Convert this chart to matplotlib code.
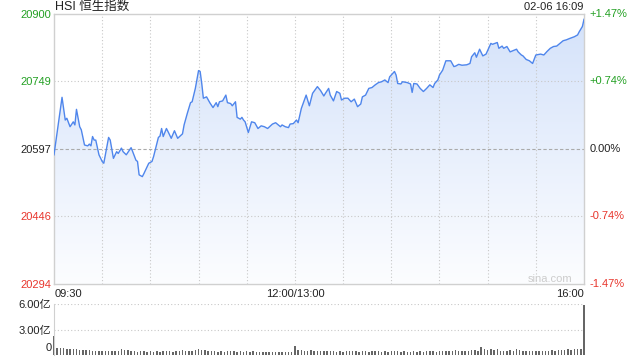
import numpy as np
import matplotlib
matplotlib.use('Agg')
import matplotlib.pyplot as plt
import matplotlib.transforms as mtransforms
from matplotlib.colors import LinearSegmentedColormap
from matplotlib.patches import PathPatch

plt.rcParams['font.family'] = ['Liberation Sans', 'Noto Sans CJK SC', 'DejaVu Sans']

# ---- data ----
prev_close = 20597
y_ticks = [20294, 20446, 20597, 20749, 20900]
pct_labels = ['-1.47%', '-0.74%', '0.00%', '+0.74%', '+1.47%']
x_tick_min = [0, 150, 330]
x_tick_labels = ['09:30', '12:00/13:00', '16:00']

# minutes since 09:30 (lunch break removed), index price
minutes = [0, 5, 7, 8, 10, 12, 13, 14, 16, 17, 19, 21, 22, 23, 24, 25, 26, 28, 30, 31, 34, 35, 37, 39, 40, 42, 43, 45, 48, 49, 51, 52, 53, 55, 56, 58, 59,
           61, 62, 65, 66, 67, 68, 70, 71, 73, 75, 77, 80, 81, 83, 85, 86, 88, 90, 91, 92, 93, 95, 97, 99, 101, 102, 103, 105, 107, 108, 110, 111, 113, 114, 116, 117, 118, 119,
           121, 123, 125, 127, 129, 131, 133, 136, 138, 139, 141, 142, 144, 146, 147, 149, 151, 152, 154, 157, 159, 161, 164, 166, 168, 169, 171, 172, 174, 176, 178,
           179, 181, 183, 185, 187, 189, 191, 192, 194, 196, 198, 200, 202, 204, 206, 208, 209, 212, 213, 214, 216, 217, 220, 222, 223, 224, 226, 228, 230, 232,
           234, 236, 237, 239, 240, 242, 244, 247, 249, 250, 252, 254, 257, 259, 260, 262, 263, 265, 267, 269, 272, 273, 276, 277, 279, 280, 282, 284, 286, 288, 289, 291, 292, 294, 296,
           298, 300, 303, 305, 307, 309, 311, 313, 315, 317, 319, 321, 324, 326, 327, 329, 330]
prices = [20584, 20713, 20662, 20666, 20647, 20658, 20651, 20686, 20647, 20640, 20606, 20604, 20608, 20604, 20625, 20617, 20617, 20584, 20569, 20565, 20623, 20617, 20576, 20591, 20587, 20599, 20591, 20584, 20600, 20591, 20572, 20569, 20539, 20535, 20542, 20557, 20565,
          20569, 20580, 20623, 20626, 20643, 20625, 20643, 20636, 20621, 20638, 20621, 20631, 20651, 20677, 20701, 20703, 20733, 20773, 20771, 20744, 20711, 20714, 20701, 20690, 20701, 20692, 20703, 20705, 20718, 20701, 20699, 20694, 20703, 20668, 20664, 20668, 20662, 20658,
          20634, 20658, 20656, 20643, 20649, 20647, 20643, 20653, 20656, 20653, 20647, 20651, 20647, 20645, 20653, 20654, 20662, 20656, 20688, 20718, 20694, 20722, 20737, 20728, 20716, 20722, 20733, 20718, 20705, 20726, 20722,
          20707, 20711, 20711, 20703, 20709, 20692, 20698, 20714, 20718, 20733, 20735, 20741, 20746, 20748, 20752, 20746, 20759, 20771, 20763, 20744, 20743, 20748, 20746, 20743, 20724, 20744, 20743, 20733, 20726, 20733,
          20741, 20735, 20744, 20752, 20763, 20774, 20795, 20795, 20782, 20783, 20787, 20785, 20786, 20789, 20804, 20813, 20803, 20821, 20806, 20810, 20834, 20832, 20836, 20823, 20828, 20823, 20827, 20815, 20818, 20821, 20815, 20808, 20806, 20798, 20795,
          20789, 20808, 20810, 20808, 20816, 20823, 20827, 20828, 20834, 20840, 20842, 20845, 20849, 20853, 20860, 20872, 20888]

# volume in 亿, one value every 2 minutes from 09:30
volume = [2.2, 0.85, 0.8, 0.8, 0.75, 0.7, 0.75, 0.65, 0.6, 0.6, 0.55, 0.55, 0.5, 0.5, 0.5,
          0.45, 0.5, 0.45, 0.5, 0.45, 0.5, 0.7, 0.6, 0.55, 0.45, 0.45, 0.4, 0.45, 0.45, 0.4, 0.45,
          0.4, 0.45, 0.4, 0.45, 0.5, 0.45, 0.4, 0.45, 0.5, 0.55, 0.5, 0.45, 0.5, 0.55, 0.7,
          0.6, 0.55, 0.5, 0.45, 0.45, 0.4, 0.45, 0.4, 0.45, 0.5, 0.45, 0.4, 0.45, 0.4, 0.45,
          0.4, 0.45, 0.4, 0.35, 0.4, 0.4, 0.35, 0.4, 0.35, 0.4, 0.35, 0.35, 0.3, 0.35,
          1.05, 0.6, 0.55, 0.5, 0.5, 0.55, 0.45, 0.5, 0.45, 0.45, 0.5, 0.45, 0.45, 0.4, 0.45,
          0.4, 0.45, 0.45, 0.5, 0.45, 0.4, 0.45, 0.45, 0.4, 0.45, 0.5, 0.45, 0.4, 0.45, 0.4,
          0.45, 0.5, 0.45, 0.4, 0.45, 0.4, 0.4, 0.45, 0.4, 0.45, 0.4, 0.45, 0.5, 0.45, 0.4,
          0.45, 0.5, 0.45, 0.5, 0.45, 0.55, 0.5, 0.45, 0.5, 0.5, 0.55, 0.6, 0.5, 0.9, 0.65,
          0.6, 0.7, 0.55, 0.65, 0.5, 0.5, 0.45, 0.55, 0.5, 0.7, 0.55, 0.5, 0.45, 0.5, 0.45,
          0.5, 0.45, 0.45, 0.5, 0.5, 0.55, 0.5, 0.55, 0.6, 0.55, 0.65, 0.6, 0.7, 0.65, 0.75,
          5.9]
vol_ticks = [3, 6]
vol_labels = ['3.00亿', '6.00亿']

GREEN = '#23a023'
RED = '#e8352c'
GRID = '#c8c8c8'
LINE = '#4f86ec'

fig = plt.figure(figsize=(6.4, 3.6), dpi=100)
ax = fig.add_axes([54 / 640, 1 - 284 / 360, 530 / 640, 270 / 360])
vax = fig.add_axes([54 / 640, 1 - 355 / 360, 530 / 640, 51 / 360])

# price area with gradient fill
poly = ax.fill_between(minutes, prices, y_ticks[0], facecolor='none', edgecolor='none')
clip = PathPatch(poly.get_paths()[0], transform=ax.transData, facecolor='none', edgecolor='none')
ax.add_patch(clip)
cmap = LinearSegmentedColormap.from_list('fade', ['#fcfdff', '#d4e2fa'])
grad = np.linspace(1, 0, 256).reshape(-1, 1)
im = ax.imshow(grad, extent=[0, 330, y_ticks[0], y_ticks[-1]], aspect='auto', cmap=cmap,
               origin='upper', zorder=1)
im.set_clip_path(clip)
ax.plot(minutes, prices, color=LINE, lw=1.0, zorder=3)

ax.set_xlim(0, 330)
ax.set_ylim(y_ticks[0], y_ticks[-1])

# grid
for m in range(30, 330, 30):
    ax.axvline(m, color=GRID, lw=0.8, ls=(0, (1, 2)), zorder=2)
for v in (y_ticks[1], y_ticks[3]):
    ax.axhline(v, color=GRID, lw=0.8, ls=(0, (1, 2)), zorder=2)
ax.axhline(prev_close, color='#aaaaaa', lw=0.8, ls=(0, (3, 2)), zorder=2)

for s in ax.spines.values():
    s.set_color('#d0d0d0')
    s.set_linewidth(1)

ax.set_xticks([])
ax.set_yticks(y_ticks)
ax.set_yticklabels([str(v) for v in y_ticks], fontsize=8)
ax.tick_params(axis='y', length=0, pad=2)
for lbl, v in zip(ax.get_yticklabels(), y_ticks):
    lbl.set_color(GREEN if v > prev_close else RED if v < prev_close else '#222222')

ytrans = mtransforms.blended_transform_factory(ax.transAxes, ax.transData)
for v, t in zip(y_ticks, pct_labels):
    c = GREEN if v > prev_close else RED if v < prev_close else '#222222'
    ax.text(1.011, v, t, transform=ytrans, ha='left', va='center', fontsize=8, color=c)

xtrans = mtransforms.blended_transform_factory(ax.transData, ax.transAxes)
for m, t, ha in zip(x_tick_min, x_tick_labels, ['left', 'center', 'right']):
    ax.text(m + (0.6 if ha == 'left' else 0), -0.037, t, transform=xtrans, ha=ha, va='center',
            fontsize=8, color='#222222')

ax.text(323, 0.02, 'sina.com', transform=xtrans, ha='right', va='center', fontsize=8, color='#cccccc')

fig.text(55 / 640, 1 - 7 / 360, 'HSI 恒生指数', ha='left', va='center', fontsize=9, color='#222222')
fig.text(583 / 640, 1 - 7 / 360, '02-06 16:09', ha='right', va='center', fontsize=8, color='#222222')

# volume panel
vol_min = np.arange(len(volume)) * 2
vax.bar(vol_min, volume, width=0.9, color='#666666', clip_on=False)
vax.set_xlim(0, 330)
vax.set_ylim(0, 6)
for v in vol_ticks:
    vax.axhline(v, color=GRID, lw=0.8, ls=(0, (1, 2)), zorder=0)
vax.set_xticks([])
vax.set_yticks(vol_ticks)
vax.set_yticklabels(vol_labels, fontsize=8, color='#222222')
vax.tick_params(axis='y', length=0, pad=2)
vax.text(-0.005, 0.8, '0', transform=mtransforms.blended_transform_factory(vax.transAxes, vax.transData),
         ha='right', va='center', fontsize=8, color='#222222')
for k in ('top', 'right', 'bottom'):
    vax.spines[k].set_visible(False)
vax.spines['left'].set_color('#d0d0d0')

fig.savefig('out.png', dpi=100)
